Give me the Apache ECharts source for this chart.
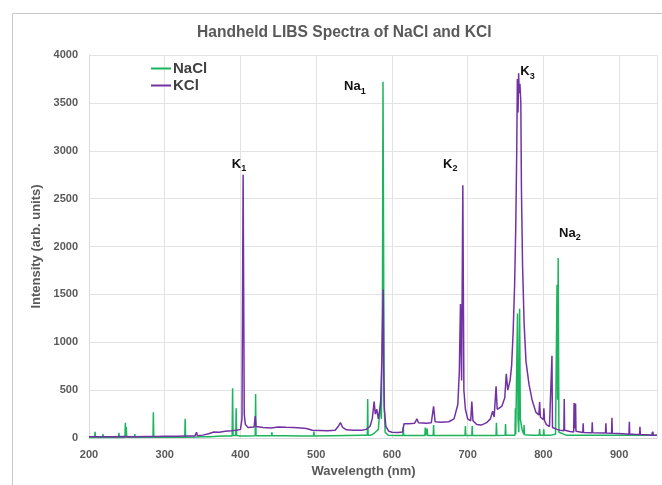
<!DOCTYPE html>
<html>
<head>
<meta charset="utf-8">
<script src="https://cdn.jsdelivr.net/npm/echarts@6/dist/echarts.min.js"></script>
<style>
  html, body { margin: 0; padding: 0; background: #fff; }
  #chart { width: 662px; height: 485px; }
</style>
</head>
<body>
<div id="chart"></div>
<script>
// NaCl spectrum (wavelength nm / intensity)
const naclWl = [200, 207.5, 208, 208.5, 218, 218.5, 219, 239, 239.5, 240, 247.5, 248, 248.6, 249.2, 249.8,
  260, 260.5, 261, 284.5, 285, 285.5, 300, 326.5, 327, 327.5, 342, 350, 360, 370, 380, 389, 389.6, 390.2,
  393.8, 394.3, 394.9, 400, 410, 419.5, 420, 420.5, 430, 441, 441.5, 442, 460, 480, 496.5, 497, 497.5,
  520, 540, 560, 567.5, 568, 568.5, 572, 575, 578, 582, 585, 586, 587.5, 588.2, 589, 589.6, 591, 595,
  605, 614.5, 615, 615.5, 630, 643.5, 644, 644.5, 646, 646.5, 647, 654.5, 655, 655.5, 670, 690, 696.5,
  697, 697.5, 705.5, 706, 706.5, 720, 737.5, 738, 738.5, 749.5, 750, 750.5, 755, 762.5, 763, 763.5,
  765.8, 766.5, 767.5, 768.6, 769.5, 772, 774, 774.5, 775, 785, 794.5, 795, 795.5, 800, 800.5, 801,
  810, 816, 818, 818.8, 819.5, 820.5, 823, 830, 850, 880, 920, 943, 943.5, 944, 950];
const naclInt = [6, 6, 66, 6, 6, 40, 6, 6, 55, 6, 6, 160, 8, 115, 8,
  8, 40, 8, 8, 268, 8, 8, 9, 200, 9, 10, 12, 14, 18, 20, 20, 519, 25,
  25, 310, 25, 22, 22, 24, 460, 24, 24, 24, 60, 24, 24, 22, 22, 66, 22,
  24, 26, 28, 28, 407, 30, 30, 40, 60, 90, 380, 200, 1500, 3720, 2000, 400, 60, 30,
  25, 25, 118, 25, 25, 26, 108, 26, 26, 100, 26, 26, 136, 26, 26, 26, 26,
  125, 26, 26, 125, 26, 26, 26, 160, 26, 28, 146, 28, 28, 30, 310, 40,
  1300, 200, 60, 1350, 200, 80, 40, 136, 35, 30, 30, 94, 30, 30, 90, 30,
  30, 40, 1600, 400, 1880, 60, 40, 30, 30, 28, 28, 28, 60, 28, 28];

// KCl spectrum
const kclWl = [200, 215, 230, 245, 260, 275, 290, 300, 315, 330, 340, 342, 343, 350, 358, 365, 372, 380,
  388, 395, 400, 402, 403.5, 405, 406.5, 410, 418, 419.5, 420.5, 430, 440, 450, 460, 470, 480, 487, 495,
  505, 515, 525, 529, 532, 535, 540, 550, 560, 566, 571, 574, 576.5, 578, 580, 582, 585, 587, 588.5,
  589.2, 590, 592, 596, 600, 608, 614, 616, 622, 630, 633, 635, 645, 652, 655, 657, 665, 675, 682, 687,
  689, 690.5, 692, 693.6, 695, 697, 700, 704, 705.5, 707, 712, 718, 725, 730, 733, 735, 737.5, 739,
  745, 749, 751, 753, 756, 758, 760, 762, 763.5, 764.8, 765.6, 766.5, 767.3, 768, 769, 770.2, 771,
  772.5, 774.5, 777, 781, 785, 790, 794, 795, 796, 800, 800.6, 801.5, 804, 808, 810.5, 811.3, 812, 818,
  822, 827, 827.5, 828, 835, 840, 840.5, 841, 842.5, 843, 852, 852.5, 853, 864, 864.5, 865, 882, 882.5,
  883, 890, 890.5, 891, 905, 913, 913.5, 914, 920, 927, 927.5, 928, 940, 944, 944.5, 945, 950];
const kclInt = [12, 14, 12, 15, 13, 16, 15, 18, 17, 20, 22, 60, 24, 30, 45, 62, 60, 70,
  75, 80, 90, 200, 2750, 250, 140, 110, 115, 230, 120, 110, 105, 115, 112, 110, 105, 100, 80,
  78, 75, 80, 120, 160, 110, 85, 82, 80, 90, 120, 200, 380, 250, 300, 200, 350, 900, 1550,
  700, 300, 120, 70, 60, 58, 62, 150, 150, 155, 200, 160, 155, 160, 330, 170, 165, 170, 200, 350,
  700, 1400, 600, 2640, 500, 300, 200, 180, 380, 180, 140, 135, 160, 200, 280, 220, 540, 300,
  330, 420, 670, 500, 600, 750, 1100, 1600, 2200, 3000, 3750, 3400, 3810, 3600, 3700, 3500, 2600,
  1800, 1200, 800, 560, 400, 270, 240, 375, 220, 190, 310, 180, 140, 120, 120, 860, 110, 90,
  80, 75, 408, 80, 68, 62, 365, 100, 360, 70, 58, 155, 58, 55, 165, 54, 52, 155,
  52, 50, 210, 50, 45, 40, 170, 40, 38, 36, 118, 36, 32, 30, 66, 30, 30];

// peak labels (element, subscript, wavelength, intensity where the label sits)
const peakNames = ['K', 'Na', 'K', 'K', 'Na'];
const peakSubs = ['1', '1', '2', '3', '2'];
const peakX = [398, 551, 677, 779, 835];
const peakY = [2860, 3670, 2860, 3825, 2140];

const xTicks = { min: 200, max: 950, interval: 100 };
const yTicks = { min: 0, max: 4000, interval: 500 };

const zip = (xs, ys) => xs.map((x, i) => [x, ys[i]]);

const chart = echarts.init(document.getElementById('chart'));
const gray = '#595959';
chart.setOption({
  animation: false,
  backgroundColor: '#fff',
  title: {
    text: 'Handheld LIBS Spectra of NaCl and KCl',
    left: 192,
    top: 20,
    textStyle: { fontFamily: 'Liberation Sans', fontSize: 15.6, fontWeight: 'bold', color: gray }
  },
  graphic: [{
    type: 'rect',
    silent: true,
    shape: { x: 12.5, y: 13.5, width: 700, height: 500 },
    style: { fill: 'none', stroke: '#c8c8c8', lineWidth: 1 }
  }],
  legend: {
    orient: 'vertical',
    left: 146,
    top: 56,
    itemGap: 2,
    itemWidth: 20,
    itemHeight: 2,
    icon: 'rect',
    data: ['NaCl', 'KCl'],
    textStyle: { fontFamily: 'Liberation Sans', fontSize: 15, fontWeight: 'bold', color: '#404040', padding: [0, 0, 0, -3] }
  },
  grid: { left: 89, right: 5, top: 55, bottom: 47 },
  xAxis: {
    type: 'value',
    min: xTicks.min, max: xTicks.max, interval: xTicks.interval,
    name: 'Wavelength (nm)',
    nameLocation: 'middle',
    nameGap: 24,
    nameTextStyle: { fontFamily: 'Liberation Sans', fontSize: 13, fontWeight: 'bold', color: gray, padding: [0, 19, 0, 0] },
    axisLine: { lineStyle: { color: '#d9d9d9' } },
    axisTick: { show: false },
    axisLabel: { showMaxLabel: false, margin: 11, fontFamily: 'Liberation Sans', fontSize: 11, fontWeight: 'bold', color: gray },
    splitLine: { lineStyle: { color: '#e3e3e3' } }
  },
  yAxis: {
    type: 'value',
    min: yTicks.min, max: yTicks.max, interval: yTicks.interval,
    name: 'Intensity (arb. units)',
    nameLocation: 'middle',
    nameGap: 42,
    nameTextStyle: { fontFamily: 'Liberation Sans', fontSize: 13, fontWeight: 'bold', color: gray },
    axisLine: { show: true, lineStyle: { color: '#d9d9d9' } },
    axisTick: { show: false },
    axisLabel: { margin: 11, formatter: v => String(v), fontFamily: 'Liberation Sans', fontSize: 11, fontWeight: 'bold', color: gray },
    splitLine: { lineStyle: { color: '#e3e3e3' } }
  },
  series: [
    {
      name: 'NaCl',
      type: 'line',
      symbol: 'none',
      color: '#1db45e',
      lineStyle: { width: 1.5 },
      data: zip(naclWl, naclInt)
    },
    {
      name: 'KCl',
      type: 'line',
      symbol: 'none',
      color: '#7232a4',
      lineStyle: { width: 1.5 },
      data: zip(kclWl, kclInt),
      markPoint: {
        symbol: 'circle',
        symbolSize: 0,
        silent: true,
        label: {
          show: true,
          position: 'inside',
          formatter: p => '{a|' + p.name + '}{b|' + p.value + '}',
          rich: {
            a: { fontFamily: 'Liberation Sans', fontSize: 13, fontWeight: 'bold', color: '#111', lineHeight: 18 },
            b: { fontFamily: 'Liberation Sans', fontSize: 9, fontWeight: 'bold', color: '#111', lineHeight: 18, padding: [9, 0, 0, 0] }
          }
        },
        data: peakNames.map((n, i) => ({ name: n, value: peakSubs[i], coord: [peakX[i], peakY[i]] }))
      }
    }
  ]
});
</script>
</body>
</html>
